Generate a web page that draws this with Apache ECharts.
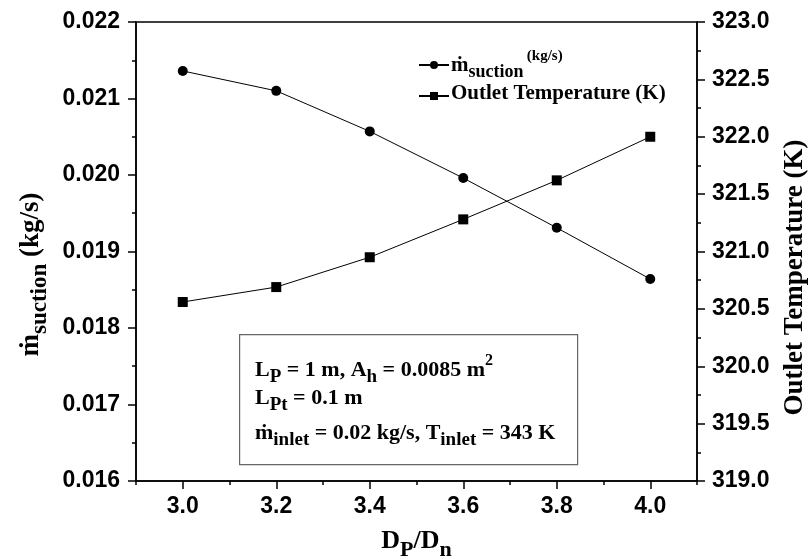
<!DOCTYPE html>
<html>
<head>
<meta charset="utf-8">
<script src="https://cdn.jsdelivr.net/npm/echarts@6/dist/echarts.min.js"></script>
<style>
  html, body { margin: 0; padding: 0; background: #fff; }
  #main { width: 811px; height: 559px; }
</style>
</head>
<body>
<div id="main"></div>
<script>
// data
var dRatio = [3.0, 3.2, 3.4, 3.6, 3.8, 4.0];
var mSuction = [0.02136, 0.02110, 0.02057, 0.01996, 0.01931, 0.01864];
var outletTemp = [320.56, 320.69, 320.95, 321.28, 321.62, 322.00];
var xMajorTicks = [3.0, 3.2, 3.4, 3.6, 3.8, 4.0];
var xMinorTicks = [2.9, 3.1, 3.3, 3.5, 3.7, 3.9, 4.1];

var serif = '"Liberation Serif", "DejaVu Serif", serif';
var sans = '"Liberation Sans", Arial, sans-serif';

// rich styles for sub / superscripts
function richSet(size, subScale) {
  subScale = subScale || 0.8;
  return {
    b: { fontFamily: serif, fontWeight: 'bold', fontSize: size, color: '#000', verticalAlign: 'bottom', padding: [0, 0, Math.round(size * 0.25), 0] },
    s: { fontFamily: serif, fontWeight: 'bold', fontSize: Math.round(size * subScale), color: '#000', verticalAlign: 'bottom', padding: [0, 0, 0, 0] },
    p: { fontFamily: serif, fontWeight: 'bold', fontSize: Math.round(size * 0.72), color: '#000', verticalAlign: 'bottom', padding: [0, 0, Math.round(size * 0.8), 0] }
  };
}

var chart = echarts.init(document.getElementById('main'), null, { renderer: 'canvas' });

var seriesData1 = dRatio.map(function (x, i) { return [x, mSuction[i]]; });
var seriesData2 = dRatio.map(function (x, i) { return [x, outletTemp[i]]; });

var tickLabel = { fontFamily: sans, fontWeight: 'bold', fontSize: 23, color: '#000' };

var option = {
  backgroundColor: '#fff',
  animation: false,
  grid: {
    left: 136, top: 22, width: 561, height: 459,
    outerBoundsMode: 'none', containLabel: false,
    show: true, borderColor: '#000', borderWidth: 1.5, backgroundColor: 'transparent'
  },
  legend: {
    orient: 'vertical',
    left: 413, top: 44,
    itemWidth: 30, itemHeight: 10, itemGap: 2,
    data: ['suction', 'temp'],
    formatter: function (name) {
      if (name === 'suction') return '{b|ṁ}{s|suction} {p|(kg/s)}';
      return '{b|Outlet Temperature (K)}';
    },
    textStyle: { rich: richSet(21, 0.85), padding: [0, 0, 0, -3] }
  },
  xAxis: [{
    type: 'value',
    min: 2.9, max: 4.1,
    name: '{b|D}{s|P}{b|/D}{s|n}',
    nameLocation: 'middle',
    nameGap: 47,
    nameTextStyle: { rich: richSet(26, 0.85) },
    axisLine: { show: true, lineStyle: { color: '#000', width: 1.5 } },
    axisTick: { show: true, length: 8, lineStyle: { color: '#000', width: 1.5 }, customValues: xMajorTicks },
    axisLabel: Object.assign({
      customValues: xMajorTicks,
      formatter: function (v) { return v.toFixed(1); },
      margin: 14
    }, tickLabel),
    splitLine: { show: false }
  }, {
    type: 'value',
    min: 2.9, max: 4.1,
    position: 'bottom',
    axisLine: { show: false },
    axisTick: { show: true, length: 4, lineStyle: { color: '#000', width: 1.5 }, customValues: xMinorTicks },
    axisLabel: { show: false },
    splitLine: { show: false }
  }],
  yAxis: [{
    type: 'value',
    min: 0.016, max: 0.022, interval: 0.001,
    position: 'left',
    name: '{b|ṁ}{s|suction}{b| (kg/s)}',
    nameLocation: 'middle',
    nameRotate: 90,
    nameGap: 82,
    nameTextStyle: { rich: richSet(27, 0.85), padding: [0, 46, 0, 0] },
    axisLine: { show: true, lineStyle: { color: '#000', width: 1.5 } },
    axisTick: { show: true, length: 8, lineStyle: { color: '#000', width: 1.5 } },
    minorTick: { show: true, splitNumber: 2, length: 4, lineStyle: { color: '#000', width: 1.5 } },
    axisLabel: Object.assign({
      formatter: function (v) { return v.toFixed(3); },
      margin: 16
    }, tickLabel),
    splitLine: { show: false }
  }, {
    type: 'value',
    min: 319, max: 323, interval: 0.5,
    position: 'right',
    name: 'Outlet Temperature (K)',
    nameLocation: 'middle',
    nameRotate: 90,
    nameGap: 85,
    nameTextStyle: { fontFamily: serif, fontWeight: 'bold', fontSize: 27, color: '#000', padding: [0, 52, 0, 0] },
    axisLine: { show: true, lineStyle: { color: '#000', width: 1.5 } },
    axisTick: { show: true, length: 8, lineStyle: { color: '#000', width: 1.5 } },
    minorTick: { show: true, splitNumber: 2, length: 4, lineStyle: { color: '#000', width: 1.5 } },
    axisLabel: Object.assign({
      formatter: function (v) { return v.toFixed(1); },
      margin: 15
    }, tickLabel),
    splitLine: { show: false }
  }],
  graphic: [{
    type: 'rect',
    left: 239, top: 334,
    shape: { width: 338, height: 130 },
    style: { fill: '#fff', stroke: '#666', lineWidth: 1.2 },
    z: 10
  }, {
    type: 'text', left: 255, top: 353, z: 11,
    style: { text: '{b|L}{s|P}{b| = 1 m, A}{s|h}{b| = 0.0085 m}{p|2}', rich: richSet(22, 0.85) }
  }, {
    type: 'text', left: 255, top: 387, z: 11,
    style: { text: '{b|L}{s|Pt}{b| = 0.1 m}', rich: richSet(22, 0.85) }
  }, {
    type: 'text', left: 255, top: 422, z: 11,
    style: { text: '{b|ṁ}{s|inlet}{b| = 0.02 kg/s, T}{s|inlet}{b| = 343 K}', rich: richSet(22, 0.85) }
  }],
  series: [{
    name: 'suction',
    type: 'line',
    xAxisIndex: 0, yAxisIndex: 0,
    data: seriesData1,
    symbol: 'circle', symbolSize: 10,
    lineStyle: { color: '#000', width: 1 },
    itemStyle: { color: '#000' }
  }, {
    name: 'temp',
    type: 'line',
    xAxisIndex: 0, yAxisIndex: 1,
    data: seriesData2,
    symbol: 'rect', symbolSize: 10,
    lineStyle: { color: '#000', width: 1 },
    itemStyle: { color: '#000' }
  }]
};

chart.setOption(option);
</script>
</body>
</html>
